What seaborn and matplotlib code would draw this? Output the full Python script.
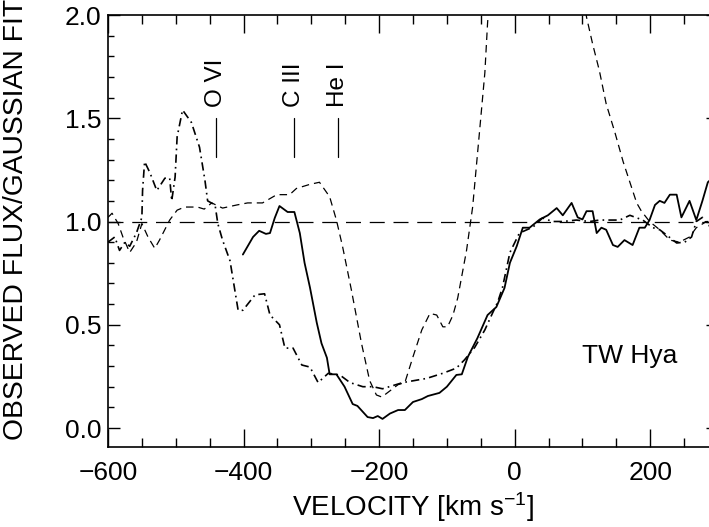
import matplotlib
matplotlib.use("Agg")
import matplotlib.pyplot as plt
import seaborn as sns
from matplotlib.ticker import MultipleLocator, FormatStrFormatter

# solid profile
v_solid = [-401, -386, -377, -367, -361, -354, -347, -335, -325, -317, -310, -302, -292, -285,
           -277, -273, -263, -251, -239, -232, -217, -209, -202, -195, -184, -172, -162, -150,
           -137, -128, -111, -100, -86, -78, -69, -55, -40, -27, -15, -7, 3, 12, 22, 37, 49,
           62, 71, 84, 93, 100, 106, 115, 121, 128, 135, 145, 152, 162, 174, 184, 192, 199,
           207, 214, 221, 229, 239, 246, 258, 268, 277, 285, 295]
f_solid = [0.84, 0.925, 0.955, 0.94, 0.944, 1.017, 1.075, 1.046, 1.046, 0.944, 0.80, 0.68, 0.51,
           0.41, 0.34, 0.26, 0.26, 0.20, 0.116, 0.107, 0.053, 0.048, 0.058, 0.044, 0.07, 0.087,
           0.087, 0.126, 0.14, 0.155, 0.17, 0.20, 0.257, 0.26, 0.345, 0.435, 0.547, 0.586,
           0.678, 0.80, 0.88, 0.97, 0.97, 1.01, 1.03, 1.065, 1.03, 1.09, 1.02, 1.01, 1.05, 1.05,
           0.944, 0.97, 0.96, 0.886, 0.877, 0.91, 0.886, 0.97, 0.97, 1.007, 1.08, 1.10, 1.09,
           1.13, 1.13, 1.02, 1.10, 1.007, 1.10, 1.19, 1.22]

# dashed profile
v_dash = [-600, -594, -585, -578, -568, -558, -550, -541, -531, -524, -509, -498, -487, -468,
          -458, -447, -431, -410, -394, -372, -351, -332, -322, -302, -288, -273, -263, -254,
          -241, -226, -214, -204, -196, -184, -172, -162, -150, -137, -125, -115, -106, -99,
          -91, -84, -71, -62, -52, -44, -40, -30, 0, 50, 95, 106, 115, 125, 135, 148, 160,
          170, 180, 187, 199, 214, 229, 243, 258, 268, 283, 295]
f_dash = [1.02, 1.04, 0.99, 0.925, 0.85, 0.90, 0.99, 0.925, 0.87, 0.91, 1.007, 1.055, 1.07, 1.07,
          1.06, 1.09, 1.065, 1.08, 1.09, 1.09, 1.13, 1.13, 1.16, 1.18, 1.19, 1.12, 1.007, 0.88,
          0.67, 0.41, 0.23, 0.16, 0.15, 0.18, 0.21, 0.22, 0.345, 0.475, 0.555, 0.547, 0.49,
          0.49, 0.547, 0.63, 0.86, 1.07, 1.43, 1.72, 1.96, 2.4, 3.0, 3.0, 2.3, 1.99, 1.86,
          1.73, 1.57, 1.43, 1.29, 1.19, 1.09, 1.05, 1.0, 0.96, 0.91, 0.90, 0.925, 0.97, 1.0, 1.0]

# dash-dot profile
v_dd = [-600, -590, -583, -575, -568, -558, -550, -549, -546, -538, -528, -516, -509, -506,
        -501, -498, -490, -477, -465, -457, -453, -442, -438, -431, -420, -416, -408, -401,
        -383, -369, -361, -347, -339, -327, -314, -302, -290, -275, -258, -243, -224, -209,
        -195, -165, -130, -106, -86, -74, -59, -44, -34, -25, -18, -7, 7, 27, 41, 56, 71, 91,
        111, 125, 155, 170, 189, 204, 214, 224, 239, 251, 261, 268, 277, 285, 295]
f_dd = [0.90, 0.925, 0.86, 0.90, 0.88, 0.945, 1.02, 1.15, 1.29, 1.235, 1.15, 1.21, 1.21, 1.10,
        1.215, 1.41, 1.54, 1.48, 1.36, 1.20, 1.10, 1.08, 0.99, 0.91, 0.81, 0.73, 0.57, 0.57,
        0.645, 0.65, 0.547, 0.50, 0.387, 0.387, 0.305, 0.295, 0.22, 0.265, 0.257, 0.22, 0.20,
        0.20, 0.19, 0.22, 0.24, 0.265, 0.29, 0.33, 0.39, 0.475, 0.547, 0.61, 0.68, 0.85, 0.944,
        0.973, 1.017, 1.0, 1.0, 1.007, 1.0, 1.007, 1.007, 1.03, 1.007, 0.97, 0.96, 0.935,
        0.896, 0.90, 0.925, 1.0, 1.02, 0.98, 0.98]

line_names = ["O VI", "C III", "He I"]
line_vel = [-441, -326, -261]

sns.set_style("ticks")
plt.rcParams["font.family"] = ["Liberation Sans", "DejaVu Sans"]
plt.rcParams["mathtext.fontset"] = "custom"
plt.rcParams["mathtext.rm"] = "Liberation Sans"
plt.rcParams["mathtext.it"] = "Liberation Sans:italic"
for key in ["text.color", "axes.labelcolor", "xtick.color", "ytick.color", "axes.edgecolor"]:
    plt.rcParams[key] = "black"

fig = plt.figure(figsize=(7.09, 5.27), dpi=100)
ax = fig.add_axes([108 / 709, 80 / 527, 610 / 709, 432 / 527])

sns.lineplot(x=v_solid, y=f_solid, sort=False, ax=ax, color="black", linewidth=1.3)
sns.lineplot(x=v_dash, y=f_dash, sort=False, ax=ax, color="black", linewidth=0.9,
             linestyle=(0, (6, 4)))
sns.lineplot(x=v_dd, y=f_dd, sort=False, ax=ax, color="black", linewidth=1.2,
             linestyle=(0, (5, 2.5, 1, 2.5)))
ax.axhline(1.0, color="black", linewidth=0.9, linestyle=(0, (12, 7)))

for name, v in zip(line_names, line_vel):
    ax.plot([v, v], [1.31, 1.50], color="black", linewidth=0.9)
    ax.text(v, 1.555, name, rotation=90, ha="center", va="bottom", fontsize=17.5)

ax.text(170, 0.35, "TW Hya", ha="center", va="center", fontsize=19)

ax.set_xlim(-600, 300)
ax.set_ylim(-0.092, 2.0)
ax.xaxis.set_major_locator(MultipleLocator(200))
ax.xaxis.set_minor_locator(MultipleLocator(50))
ax.yaxis.set_major_locator(MultipleLocator(0.5))
ax.yaxis.set_minor_locator(MultipleLocator(0.1))
ax.yaxis.set_major_formatter(FormatStrFormatter("%.1f"))

ax.tick_params(axis="x", which="major", direction="in", length=13, width=1, top=True,
               labelsize=19, pad=10)
ax.tick_params(axis="x", which="minor", direction="in", length=6.5, width=1, top=True)
ax.tick_params(axis="y", which="major", direction="in", length=8.6, width=1, right=True,
               labelsize=19, pad=5)
ax.tick_params(axis="y", which="minor", direction="in", length=4.3, width=1, right=True)
for s in ax.spines.values():
    s.set_linewidth(1.2)

ax.set_xlabel("VELOCITY [km s$^{-1}$]", fontsize=20, labelpad=4)
ax.set_ylabel("OBSERVED FLUX/GAUSSIAN FIT", fontsize=20.3, labelpad=6)
ax.yaxis.set_label_coords(-0.13, 0.527)

fig.savefig("out.png", dpi=100)
